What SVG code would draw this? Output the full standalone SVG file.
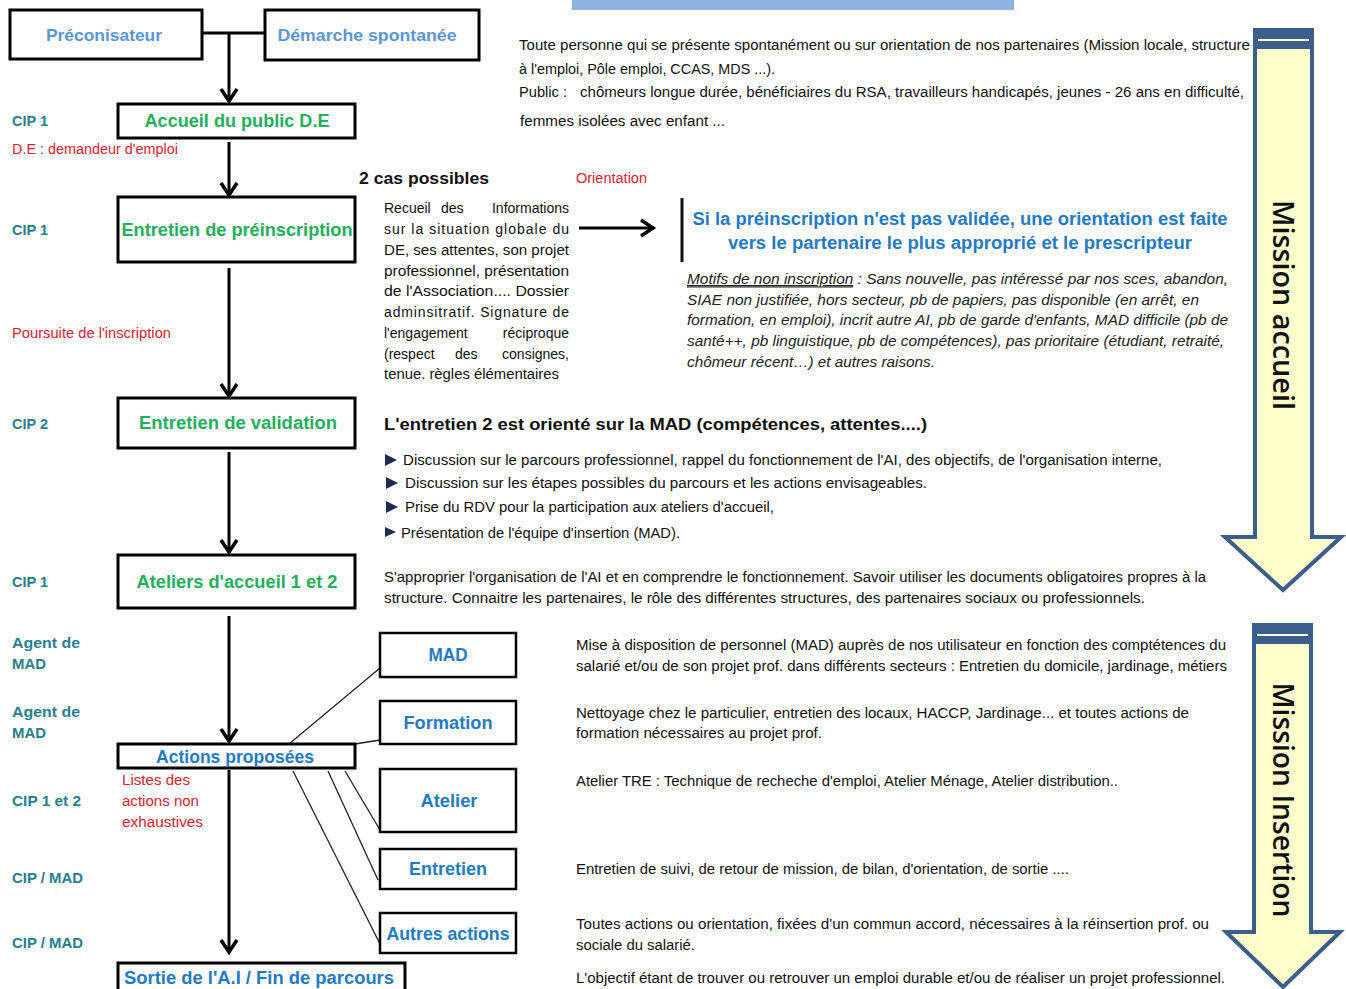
<svg xmlns="http://www.w3.org/2000/svg" width="1346" height="989" viewBox="0 0 1346 989">
<defs>
<style>
text{font-family:"Liberation Sans",Arial,sans-serif;}
.box{fill:#fff;stroke:#000;stroke-width:3;}
.sbox{fill:#fff;stroke:#000;stroke-width:2.5;}
.gt{font-size:18px;font-weight:bold;fill:#22b15b;text-anchor:middle;}
.bt{font-size:18px;font-weight:bold;fill:#1f7bc8;text-anchor:middle;}
.lbt{font-size:17px;font-weight:bold;fill:#5a95dc;text-anchor:middle;}
.teal{font-size:14.5px;font-weight:bold;fill:#26808f;}
.red{font-size:14px;fill:#e4202e;}
.body{font-size:14px;fill:#111;}
.it{font-size:14px;fill:#222;font-style:italic;}
.hd{font-size:17px;font-weight:bold;fill:#111;}
.conn{stroke:#000;stroke-width:3;fill:none;}
.head{stroke:#000;stroke-width:3.5;fill:none;stroke-linejoin:miter;}
.thin{stroke:#222;stroke-width:1.3;fill:none;}
.big{fill:#ffffcc;stroke:#3b5e8c;stroke-width:4;stroke-linejoin:miter;}
.band{fill:#3b5e8c;}
.mis{font-family:"Open Sans","Liberation Sans",sans-serif;font-size:28px;font-weight:600;fill:#111;text-anchor:middle;}
.tri{fill:#1f2a55;}
</style>
</defs>

<rect x="572" y="0" width="442" height="10" fill="#8db3e2"/>

<g id="connectors">
<line class="conn" x1="202" y1="33" x2="265" y2="33"/>
<line class="conn" x1="229" y1="33" x2="229" y2="101"/>
<path class="head" d="M221,89 L229,101 L237,89"/>
<line class="conn" x1="229" y1="142" x2="229" y2="195"/>
<path class="head" d="M221,183 L229,195 L237,183"/>
<line class="conn" x1="229" y1="268" x2="229" y2="396"/>
<path class="head" d="M221,384 L229,396 L237,384"/>
<line class="conn" x1="229" y1="452" x2="229" y2="552"/>
<path class="head" d="M221,540 L229,552 L237,540"/>
<line class="conn" x1="229" y1="616" x2="229" y2="741"/>
<path class="head" d="M221,729 L229,741 L237,729"/>
<line class="conn" x1="229" y1="770" x2="229" y2="952"/>
<path class="head" d="M221,940 L229,952 L237,940"/>
<line class="conn" x1="579" y1="228" x2="653" y2="228"/>
<path class="head" d="M641,220 L653,228 L641,236"/>
<line class="thin" x1="289" y1="744" x2="380" y2="668"/>
<line class="thin" x1="355" y1="744" x2="380" y2="740"/>
<line class="thin" x1="345" y1="771" x2="380" y2="830"/>
<line class="thin" x1="328" y1="771" x2="378" y2="880"/>
<line class="thin" x1="293" y1="771" x2="380" y2="944"/>
</g>

<g id="preconisateur">
<rect class="box" x="10" y="10" width="192" height="49"/>
<text class="lbt" x="104" y="41" textLength="116" lengthAdjust="spacingAndGlyphs">Préconisateur</text>
</g>
<g id="demarche">
<rect class="box" x="265" y="10" width="214" height="50"/>
<text class="lbt" x="367" y="41" textLength="179" lengthAdjust="spacingAndGlyphs">Démarche spontanée</text>
</g>
<g id="accueil">
<rect class="box" x="118" y="104" width="237" height="34"/>
<text class="gt" x="237" y="127" textLength="185" lengthAdjust="spacingAndGlyphs">Accueil du public D.E</text>
</g>
<g id="preinscription">
<rect class="box" x="118" y="197" width="237" height="65"/>
<text class="gt" x="237" y="236" textLength="231" lengthAdjust="spacingAndGlyphs">Entretien de préinscription</text>
</g>
<g id="validation">
<rect class="box" x="118" y="398" width="237" height="50"/>
<text class="gt" x="238" y="429" textLength="198" lengthAdjust="spacingAndGlyphs">Entretien de validation</text>
</g>
<g id="ateliers-accueil">
<rect class="box" x="118" y="555" width="237" height="53"/>
<text class="gt" x="237" y="588" textLength="201" lengthAdjust="spacingAndGlyphs">Ateliers d'accueil 1 et 2</text>
</g>
<g id="actions">
<rect class="box" x="118" y="744" width="237" height="24"/>
<text class="bt" x="235" y="763" textLength="158" lengthAdjust="spacingAndGlyphs">Actions proposées</text>
</g>
<g id="sortie">
<rect class="box" x="118" y="963" width="287" height="30"/>
<text class="bt" x="259" y="984" textLength="270" lengthAdjust="spacingAndGlyphs">Sortie de l'A.I / Fin de parcours</text>
</g>
<g id="mad">
<rect class="sbox" x="380" y="633" width="136" height="44"/>
<text class="bt" x="448" y="661" textLength="39" lengthAdjust="spacingAndGlyphs">MAD</text>
</g>
<g id="formation">
<rect class="sbox" x="380" y="701" width="136" height="43"/>
<text class="bt" x="448" y="729" textLength="89" lengthAdjust="spacingAndGlyphs">Formation</text>
</g>
<g id="atelier">
<rect class="sbox" x="380" y="769" width="136" height="63"/>
<text class="bt" x="449" y="807" textLength="57" lengthAdjust="spacingAndGlyphs">Atelier</text>
</g>
<g id="entretien">
<rect class="sbox" x="380" y="849" width="136" height="40"/>
<text class="bt" x="448" y="875" textLength="78" lengthAdjust="spacingAndGlyphs">Entretien</text>
</g>
<g id="autres">
<rect class="sbox" x="380" y="913" width="136" height="40"/>
<text class="bt" x="448" y="940" textLength="123" lengthAdjust="spacingAndGlyphs">Autres actions</text>
</g>

<g id="left-labels">
<text class="teal" x="12" y="126" textLength="36" lengthAdjust="spacingAndGlyphs">CIP 1</text>
<text class="red" x="12" y="154" textLength="166" lengthAdjust="spacingAndGlyphs">D.E : demandeur d'emploi</text>
<text class="teal" x="12" y="235" textLength="36" lengthAdjust="spacingAndGlyphs">CIP 1</text>
<text class="red" x="12" y="338" textLength="159" lengthAdjust="spacingAndGlyphs">Poursuite de l'inscription</text>
<text class="teal" x="12" y="429" textLength="36" lengthAdjust="spacingAndGlyphs">CIP 2</text>
<text class="teal" x="12" y="587" textLength="36" lengthAdjust="spacingAndGlyphs">CIP 1</text>
<text class="teal" x="12" y="648" textLength="68" lengthAdjust="spacingAndGlyphs">Agent de</text>
<text class="teal" x="12" y="669" textLength="34" lengthAdjust="spacingAndGlyphs">MAD</text>
<text class="teal" x="12" y="717" textLength="68" lengthAdjust="spacingAndGlyphs">Agent de</text>
<text class="teal" x="12" y="738" textLength="34" lengthAdjust="spacingAndGlyphs">MAD</text>
<text class="teal" x="12" y="806" textLength="69" lengthAdjust="spacingAndGlyphs">CIP 1 et 2</text>
<text class="teal" x="12" y="883" textLength="71" lengthAdjust="spacingAndGlyphs">CIP / MAD</text>
<text class="teal" x="12" y="948" textLength="71" lengthAdjust="spacingAndGlyphs">CIP / MAD</text>
<text class="red" x="122" y="785" textLength="68" lengthAdjust="spacingAndGlyphs">Listes des</text>
<text class="red" x="122" y="806" textLength="77" lengthAdjust="spacingAndGlyphs">actions non</text>
<text class="red" x="122" y="827" textLength="81" lengthAdjust="spacingAndGlyphs">exhaustives</text>
</g>

<g id="top-text">
<text class="body" x="519" y="50" textLength="731" lengthAdjust="spacingAndGlyphs">Toute personne qui se présente spontanément ou sur orientation de nos partenaires (Mission locale, structure</text>
<text class="body" x="519" y="74" textLength="256" lengthAdjust="spacingAndGlyphs">à l'emploi, Pôle emploi, CCAS, MDS ...).</text>
<text class="body" x="519" y="97" textLength="48" lengthAdjust="spacingAndGlyphs">Public :</text>
<text class="body" x="580" y="97" textLength="664" lengthAdjust="spacingAndGlyphs">chômeurs longue durée, bénéficiaires du RSA, travailleurs handicapés, jeunes - 26 ans en difficulté,</text>
<text class="body" x="520" y="126" textLength="205" lengthAdjust="spacingAndGlyphs">femmes isolées avec enfant ...</text>
</g>

<g id="preinscription-text">
<text class="hd" x="359" y="184" textLength="130" lengthAdjust="spacingAndGlyphs">2 cas possibles</text>
<text class="red" x="576" y="183" textLength="71" lengthAdjust="spacingAndGlyphs">Orientation</text>
<text class="body" x="384" y="213">Recueil</text>
<text class="body" x="441" y="213">des</text>
<text class="body" x="569" y="213" text-anchor="end">Informations</text>
<text class="body" x="384" y="234" textLength="185" lengthAdjust="spacing">sur la situation globale du</text>
<text class="body" x="384" y="255" textLength="185" lengthAdjust="spacingAndGlyphs">DE, ses attentes, son projet</text>
<text class="body" x="384" y="276" textLength="185" lengthAdjust="spacingAndGlyphs">professionnel, présentation</text>
<text class="body" x="384" y="296" textLength="185" lengthAdjust="spacingAndGlyphs">de l'Association.... Dossier</text>
<text class="body" x="384" y="317" textLength="185" lengthAdjust="spacing">adminsitratif. Signature de</text>
<text class="body" x="384" y="338">l'engagement</text>
<text class="body" x="569" y="338" text-anchor="end">réciproque</text>
<text class="body" x="384" y="359">(respect</text>
<text class="body" x="455" y="359">des</text>
<text class="body" x="569" y="359" text-anchor="end">consignes,</text>
<text class="body" x="384" y="379" textLength="175" lengthAdjust="spacingAndGlyphs">tenue. règles élémentaires</text>
</g>

<g id="orientation-text">
<line x1="682" y1="198" x2="682" y2="262" stroke="#111" stroke-width="3"/>
<text class="bt" x="960" y="225" textLength="535" lengthAdjust="spacingAndGlyphs">Si la préinscription n'est pas validée, une orientation est faite</text>
<text class="bt" x="960" y="249" textLength="464" lengthAdjust="spacingAndGlyphs">vers le partenaire le plus approprié et le prescripteur</text>
<text class="it" x="687" y="284" textLength="541" lengthAdjust="spacingAndGlyphs"><tspan text-decoration="underline">Motifs de non inscription</tspan> : Sans nouvelle, pas intéressé par nos sces, abandon,</text>
<line x1="687" y1="287" x2="853" y2="287" stroke="#222" stroke-width="1"/>
<text class="it" x="687" y="305" textLength="512" lengthAdjust="spacingAndGlyphs">SIAE non justifiée, hors secteur, pb de papiers, pas disponible (en arrêt, en</text>
<text class="it" x="687" y="325" textLength="541" lengthAdjust="spacingAndGlyphs">formation, en emploi), incrit autre AI, pb de garde d'enfants, MAD difficile (pb de</text>
<text class="it" x="687" y="346" textLength="537" lengthAdjust="spacingAndGlyphs">santé++, pb linguistique, pb de compétences), pas prioritaire (étudiant, retraité,</text>
<text class="it" x="687" y="367" textLength="248" lengthAdjust="spacingAndGlyphs">chômeur récent…) et autres raisons.</text>
</g>

<g id="validation-text">
<text class="hd" x="384" y="430" textLength="543" lengthAdjust="spacingAndGlyphs">L'entretien 2 est orienté sur la MAD (compétences, attentes....)</text>
<path class="tri" d="M385,454 L397,460 L385,466 Z"/>
<text class="body" x="403" y="465" textLength="759" lengthAdjust="spacingAndGlyphs">Discussion sur le parcours professionnel, rappel du fonctionnement de l'AI, des objectifs, de l'organisation interne,</text>
<path class="tri" d="M386,477 L398,483 L386,489 Z"/>
<text class="body" x="405" y="488" textLength="522" lengthAdjust="spacingAndGlyphs">Discussion sur les étapes possibles du parcours et les actions envisageables.</text>
<path class="tri" d="M386,501 L398,507 L386,513 Z"/>
<text class="body" x="405" y="512" textLength="369" lengthAdjust="spacingAndGlyphs">Prise du RDV pour la participation aux ateliers d'accueil,</text>
<path class="tri" d="M385,527 L396,532 L385,537 Z"/>
<text class="body" x="401" y="538" textLength="279" lengthAdjust="spacingAndGlyphs">Présentation de l'équipe d'insertion (MAD).</text>
<text class="body" x="384" y="582" textLength="822" lengthAdjust="spacingAndGlyphs">S'approprier l'organisation de l'AI et en comprendre le fonctionnement. Savoir utiliser les documents obligatoires propres à la</text>
<text class="body" x="384" y="603" textLength="761" lengthAdjust="spacingAndGlyphs">structure. Connaitre les partenaires, le rôle des différentes structures, des partenaires sociaux ou professionnels.</text>
</g>

<g id="actions-text">
<text class="body" x="576" y="650" textLength="650" lengthAdjust="spacingAndGlyphs">Mise à disposition de personnel (MAD) auprès de nos utilisateur en fonction des comptétences du</text>
<text class="body" x="576" y="671" textLength="651" lengthAdjust="spacingAndGlyphs">salarié et/ou de son projet prof. dans différents secteurs : Entretien du domicile, jardinage, métiers</text>
<text class="body" x="576" y="718" textLength="613" lengthAdjust="spacingAndGlyphs">Nettoyage chez le particulier, entretien des locaux, HACCP, Jardinage... et toutes actions de</text>
<text class="body" x="576" y="738" textLength="246" lengthAdjust="spacingAndGlyphs">formation nécessaires au projet prof.</text>
<text class="body" x="576" y="786" textLength="542" lengthAdjust="spacingAndGlyphs">Atelier TRE : Technique de recheche d'emploi, Atelier Ménage, Atelier distribution..</text>
<text class="body" x="576" y="874" textLength="493" lengthAdjust="spacingAndGlyphs">Entretien de suivi, de retour de mission, de bilan, d'orientation, de sortie ....</text>
<text class="body" x="576" y="929" textLength="633" lengthAdjust="spacingAndGlyphs">Toutes actions ou orientation, fixées d'un commun accord, nécessaires à la réinsertion prof. ou</text>
<text class="body" x="576" y="950" textLength="119" lengthAdjust="spacingAndGlyphs">sociale du salarié.</text>
<text class="body" x="576" y="983" textLength="649" lengthAdjust="spacingAndGlyphs">L'objectif étant de trouver ou retrouver un emploi durable et/ou de réaliser un projet professionnel.</text>
</g>

<g id="mission-accueil">
<path class="big" d="M1255,30 L1312,30 L1312,537 L1341,537 L1283,590 L1225,537 L1255,537 Z"/>
<rect class="band" x="1255" y="30" width="57" height="19"/>
<line x1="1258" y1="40" x2="1309" y2="40" stroke="#ffffcc" stroke-width="2"/>
<text class="mis" transform="translate(1283,305) rotate(90)" y="10" textLength="210" lengthAdjust="spacingAndGlyphs">Mission accueil</text>
</g>
<g id="mission-insertion">
<path class="big" d="M1254,625 L1311,625 L1311,932 L1340,932 L1283,987 L1226,932 L1254,932 Z"/>
<rect class="band" x="1254" y="625" width="57" height="19"/>
<line x1="1257" y1="635" x2="1308" y2="635" stroke="#ffffcc" stroke-width="2"/>
<text class="mis" transform="translate(1283,800) rotate(90)" y="10" textLength="235" lengthAdjust="spacingAndGlyphs">Mission Insertion</text>
</g>
</svg>
